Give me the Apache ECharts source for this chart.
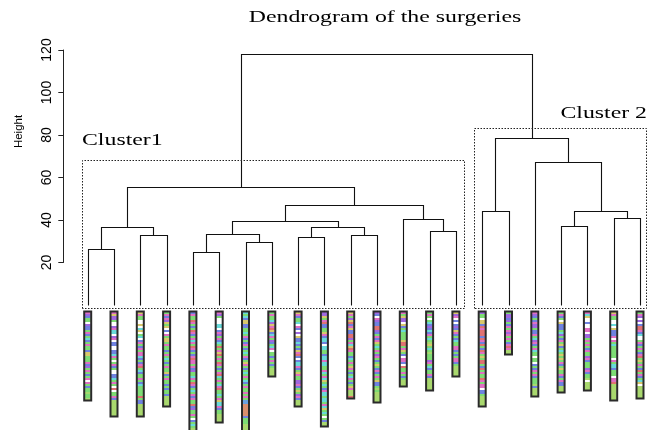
<!DOCTYPE html>
<html><head><meta charset="utf-8">
<script src="https://cdn.jsdelivr.net/npm/echarts@6/dist/echarts.min.js"></script>
<style>html,body{margin:0;padding:0;background:#fff}#c{width:648px;height:430px}</style>
</head><body><div id="c"></div>
<script>
// ---------- data ----------
const leafCount = 22;
// hclust-style merges: negative = leaf index (1-based), positive = earlier merge (1-based)
const mergeLeft   = [-1, -3, 1, -5, -7, 4, -9, -11, 7, 6, -14, -13, 10, 3, -16, -19, -21, 16, -18, 15, 14];
const mergeRight  = [-2, -4, 2, -6, -8, 5, -10, -12, 8, 9, -15, 11, 12, 13, -17, -20, -22, 17, 18, 19, 20];
const mergeHeight = [26.2, 32.9, 36.8, 25.1, 29.8, 33.4, 32.0, 32.8, 36.8, 39.7, 34.7, 40.5, 47.2, 55.4, 44.1, 37.3, 41.1, 44.4, 67.2, 78.7, 118];
const yTickLabels = [20, 40, 60, 80, 100, 120];
const clusterNames = ['Cluster1', 'Cluster 2'];
const clusterFrom  = [0.795, 15.70];
const clusterTo    = [15.32, 22.22];
const clusterTop   = [68.2, 83.5];
const clusterBottom = [-1.6, -1.6];
// state sequences shown under each leaf (one character = one time step)
const sequences = [
  "mpbggwpbbgmbgcbgmggbyygggmbpgmgbgmwmgbgglggl",
  "myppgwwpmccwpmwbbwwbbcmgwgmbgwwbbcgmgwrwggmbllllllll",
  "ymggwwywcywgcwbmgbmgmmcbgbmrgcbggmgbcgggggrgbbllllll",
  "gmbmpygywbwmgyygmggbgmgcgbgmggybgmggbgbggblllll",
  "bmggrmgbgrmbgmcmgrmbgbmrmmgmbpggcmgrmbgcgmbmggrbpggmgwbgcgly",
  "mpgwwwccwbmpgmbcgrgmyrgmgrmgbgmrcgmgcmrggcgmyccmbggllll",
  "cgcbyybbggcgmbgbmgbgcgmbgymgbgcgmgcbgmggmgmgkkoooooobgggllll",
  "gmggcpymrybcmgpbgcmwggbgmgbgllll",
  "ymbggcwmbwpwybbcbgbymrbwbccmbgymggppmbgygpmblll",
  "ppygmrbbggymbccbwccggbccmccggmcgmcygcgbmccgccgmcygcgwgbll",
  "ymgpyrbmybbrrpgmcyrmggbcgmgymgbgcmgbgymlllr",
  "pbwmpbbrrpbgmbmygcgmgpmgbgygbmbgmgybbglglllll",
  "mgyppwybgcggggyrrgmygbwmmbwrggmgbglll",
  "gmgwgcbpbcbmgcglygcglgggpmgcbggmbllllll",
  "ypmwbwbpbymbgbcggmmbgbgmmbglllll",
  "pggwyybrmrrrbrmbrgbrmgygrrgbrgmggrmgmmwbbglllll",
  "gppbpgbmgmpmgmgbmrmll",
  "mpbgbmppgbbmgcpmbgmcggwggwbgbmgmbggglbllll",
  "gmbgwybbbgcpgbmgybgcgygygmbgyggmbgmbblll",
  "mcywwbwwmmwppgmgmgbmggpmbgggpmbgglwllll",
  "ymggwwcwybbbmwmgcggggggwmgccbgggwmmrllllllll",
  "gmpwpwbrrmbcwwgmbgmgbmrgygmgbrgmbgcywllllll"
];
const palette = {
  g:'#7ddc74', l:'#a9d86e', b:'#6f82e0', p:'#a068e0', m:'#e06fc4', c:'#68dada',
  y:'#d8c86c', r:'#e07272', o:'#d98f6e', k:'#6aa2e0', w:'#ffffff'
};

// ---------- build dendrogram links ----------
const nodeX = [], nodeH = [];
function childPos(ref){
  if (ref < 0) return [-ref, 0];
  return [nodeX[ref-1], nodeH[ref-1]];
}
const links = [];
for (let i = 0; i < mergeHeight.length; i++){
  const L = childPos(mergeLeft[i]), R = childPos(mergeRight[i]);
  nodeX.push((L[0]+R[0])/2); nodeH.push(mergeHeight[i]);
  links.push([L[0], L[1], R[0], R[1], mergeHeight[i]]);
}
const boxes = clusterNames.map((n,i)=>[clusterFrom[i], clusterBottom[i], clusterTo[i], clusterTop[i]]);
const seqData = sequences.map((s,i)=>[i+1, s.length]);

const serif = "'Liberation Serif', 'Times New Roman', serif";
const sans = "'Liberation Sans', Arial, sans-serif";
const stretch = 1.36;
const leafPx = 26.3, plotLeft = 61.4;
const xMax = (648 - plotLeft) / leafPx;

const chart = echarts.init(document.getElementById('c'), null, {renderer:'canvas'});
chart.setOption({
  animation: false,
  backgroundColor: '#fff',
  grid: [
    {left: 63.3, top: 50, width: 2, height: 212.5},
    {left: plotLeft, top: 50, right: 0, height: 130*2.125},
    {left: plotLeft, top: 312, right: 0, height: 118}
  ],
  xAxis: [
    {gridIndex:0, type:'value', show:false, min:0, max:1},
    {gridIndex:1, type:'value', show:false, min:0, max:xMax},
    {gridIndex:2, type:'value', show:false, min:0, max:xMax}
  ],
  yAxis: [
    {gridIndex:0, type:'value', min: yTickLabels[0], max: yTickLabels[yTickLabels.length-1], interval: 20,
     axisLine:{show:true, lineStyle:{color:'#222', width:1}},
     axisTick:{show:true, length:5, lineStyle:{color:'#222', width:1}},
     splitLine:{show:false},
     axisLabel:{rotate:90, margin:9, color:'#000', fontFamily:sans, fontSize:14,
       formatter: v => yTickLabels.indexOf(v) >= 0 ? String(v) : ''}},
    {gridIndex:1, type:'value', show:false, min:-10, max:120},
    {gridIndex:2, type:'value', show:false, min:0, max:59, inverse:true}
  ],
  series: [
    {type:'line', xAxisIndex:0, yAxisIndex:0, data:[], silent:true},
    {
      type:'custom', xAxisIndex:1, yAxisIndex:1, data: links, silent:true,
      encode:{x:[0,2], y:[1,3,4]},
      renderItem: function(params, api){
        const xl=api.value(0), hl=api.value(1), xr=api.value(2), hr=api.value(3), h=api.value(4);
        const pts=[api.coord([xl,hl]),api.coord([xl,h]),api.coord([xr,h]),api.coord([xr,hr])]
          .map(p=>[Math.round(p[0])+0.5, Math.round(p[1])+0.5]);
        return {type:'polyline', shape:{points:pts}, style:{stroke:'#111', lineWidth:1.1, fill:null}};
      }
    },
    {
      type:'custom', xAxisIndex:1, yAxisIndex:1, data: boxes, silent:true,
      encode:{x:[0,2], y:[1,3]},
      renderItem: function(params, api){
        const p0 = api.coord([api.value(0), api.value(1)]);
        const p1 = api.coord([api.value(2), api.value(3)]);
        const x0=Math.round(p0[0])+0.5, x1=Math.round(p1[0])+0.5, yb=Math.round(p0[1])+0.5, yt=Math.round(p1[1])+0.5;
        const i = params.dataIndex;
        const label = i === 0
          ? {type:'text', x:x0-0.5, y:yt-20, scaleX:stretch,
             style:{text:clusterNames[i], font:'17.5px '+serif, fill:'#000', align:'left', verticalAlign:'middle'}}
          : {type:'text', x:x1+0.5, y:yt-15, scaleX:stretch,
             style:{text:clusterNames[i], font:'17.5px '+serif, fill:'#000', align:'right', verticalAlign:'middle'}};
        return {type:'group', children:[
          {type:'polygon', shape:{points:[[x0,yb],[x0,yt],[x1,yt],[x1,yb]]},
           style:{fill:null, stroke:'#222', lineWidth:1, lineDash:[1.5,1.5]}},
          label
        ]};
      }
    },
    {
      type:'custom', xAxisIndex:2, yAxisIndex:2, data: seqData, silent:true, clip:false,
      encode:{x:0, y:1},
      renderItem: function(params, api){
        const seq = sequences[params.dataIndex];
        const x = api.value(0);
        const children = [];
        let k = 0;
        while (k < seq.length){
          let j = k; while (j < seq.length && seq[j] === seq[k]) j++;
          const a = api.coord([x,k]), b = api.coord([x,j]);
          children.push({type:'rect', shape:{x:a[0]-3, y:a[1], width:6, height:b[1]-a[1]}, style:{fill:palette[seq[k]]}});
          k = j;
        }
        const top = api.coord([x,0]), bot = api.coord([x,seq.length]);
        children.push({type:'rect', shape:{x:top[0]-3.5, y:top[1]-0.5, width:7, height:bot[1]-top[1]+1},
          style:{fill:null, stroke:'#2a2a2a', lineWidth:2}});
        return {type:'group', children};
      }
    }
  ],
  graphic: [
    {type:'text', x:385, y:17.5, scaleX:stretch,
     style:{text:'Dendrogram of the surgeries', font:'17.5px '+serif, fill:'#000', align:'center', verticalAlign:'middle'}},
    {type:'text', x:19, y:131.5, rotation:Math.PI/2,
     style:{text:'Height', font:'11.5px '+sans, fill:'#000', align:'center', verticalAlign:'middle'}}
  ]
});
</script></body></html>
